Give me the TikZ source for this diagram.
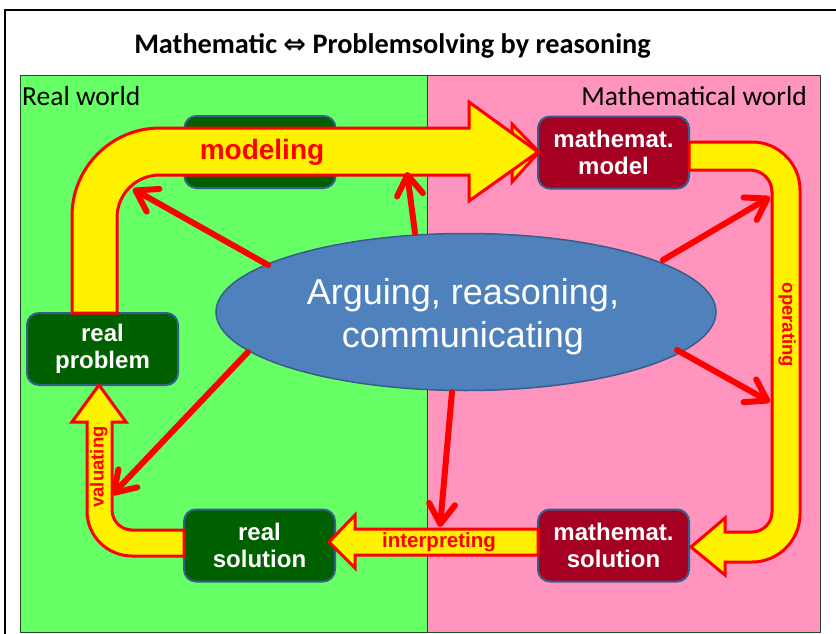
\documentclass[tikz,border=0pt]{standalone}
\usepackage{fontspec}
\setmainfont{Liberation Sans}
\newfontfamily\calibrifont{Carlito}
\newfontfamily\dejavufont{DejaVu Sans}
\usetikzlibrary{arrows.meta,shapes.geometric}
\definecolor{panelgreen}{RGB}{102,255,102}
\definecolor{panelpink}{RGB}{255,148,190}
\definecolor{boxgreen}{RGB}{0,96,0}
\definecolor{boxred}{RGB}{165,0,33}
\definecolor{boxborder}{RGB}{56,93,138}
\definecolor{ellfill}{RGB}{79,129,189}
\definecolor{panelline}{RGB}{40,70,40}
\begin{document}
\begin{tikzpicture}[x=1pt,y=-1pt,
  panel/.style={draw=panelline, line width=1pt},
  rbox/.style={draw=boxborder, line width=2pt, rounded corners=12pt, minimum width=151pt, minimum height=72pt, inner sep=0pt, align=center, text=white, font=\fontsize{24}{27}\selectfont\bfseries},
  yarrow/.style={fill=yellow, draw=red, line width=3pt, line join=miter},
  rarrow/.style={draw=red, line width=6pt, line cap=round, -{Straight Barb[length=20pt,width=26pt,round]}},
  lbl/.style={text=red, inner sep=0pt, font=\fontsize{19}{19}\selectfont\bfseries},
  worldlbl/.style={inner sep=0pt, font=\calibrifont\fontsize{27.5}{28}\selectfont},
]
\useasboundingbox (0,0) rectangle (836,634);
\clip (0,0) rectangle (836,634);
\fill[white] (0,0) rectangle (836,634);
\draw[line width=2pt] (5,10) rectangle (900,700);
% panels
\draw[panel, fill=panelgreen] (20,76) rectangle (427,632);
\draw[panel, fill=panelpink] (427,76) rectangle (820,632);
% texts
\node[inner sep=0pt, font=\calibrifont\fontsize{28.3}{30}\selectfont\bfseries] (title) at (392.5,46) {Mathematic {\dejavufont\fontsize{27}{28}\selectfont ⇔} Problemsolving by reasoning};
\node[worldlbl, anchor=west] (rw) at (22,96) {Real world};
\node[worldlbl, anchor=east] (mw) at (807,96) {Mathematical world};
% boxes
\node[rbox, fill=boxgreen] (hid) at (260,152) {};
\node[rbox, fill=boxred] (mm) at (613.5,152.5) {mathemat.\\model};
\node[rbox, fill=boxgreen] (rp) at (102.5,349) {real\\problem};
\node[rbox, fill=boxgreen] (rs) at (259.5,545.5) {real\\solution};
\node[rbox, fill=boxred] (ms) at (613.5,545.5) {mathemat.\\solution};
% modeling arrow
\draw[yarrow] (512,124) -- (539,152) -- (512,182) -- cycle;
\draw[yarrow] (72,313) -- (72,216) .. controls (72,167.4) and (111.4,128) .. (160,128)
  -- (469,128) -- (469,102) -- (538,152) -- (469,201) -- (469,175) -- (160,175)
  .. controls (136,175) and (117,194) .. (117,218) -- (117,313) -- cycle;
% operating arrow
\draw[yarrow] (689,142) -- (752,142) .. controls (778.5,142) and (800,163.5) .. (800,190)
  -- (800,514) .. controls (800,540.5) and (778.5,562) .. (752,562) -- (725,562) -- (725,575)
  -- (691,547) -- (725,518) -- (725,532) -- (752,532) .. controls (763,532) and (772,523) .. (772,512)
  -- (772,192) .. controls (772,179.8) and (762.2,170) .. (750,170) -- (689,170) -- cycle;
% interpreting arrow
\draw[yarrow] (538,529) -- (355,529) -- (355,515) -- (329,542) -- (355,568) -- (355,555) -- (538,555) -- cycle;
% valuating arrow
\draw[yarrow] (184,530) -- (132,530) .. controls (121,530) and (112,521) .. (112,510) -- (112,422)
  -- (126,422) -- (99,385) -- (72,422) -- (87,422) -- (87,511)
  .. controls (87,535.9) and (107.1,556) .. (132,556) -- (184,556) -- cycle;
% ellipse
\node[ellipse, draw=boxborder, line width=1.5pt, fill=ellfill, minimum width=500pt, minimum height=157pt, inner sep=0pt] (ell) at (466,312) {};
\node[align=center, text=white, inner sep=0pt, font=\fontsize{36}{43}\selectfont] (elltext) at (463,317) {Arguing, reasoning,\\communicating};
% red arrows
\coordinate (s1) at (268,265); \coordinate (t1) at (133,189);
\coordinate (s2) at (415,233); \coordinate (t2) at (407,172);
\coordinate (s3) at (663,260); \coordinate (t3) at (770,197);
\coordinate (s4) at (677,350); \coordinate (t4) at (770,402);
\coordinate (s5) at (452,392); \coordinate (t5) at (440,527);
\coordinate (s6) at (248,352); \coordinate (t6) at (112,495);
\draw[rarrow] (s1) -- (t1);
\draw[rarrow] (s2) -- (t2);
\draw[rarrow] (s3) -- (t3);
\draw[rarrow] (s4) -- (t4);
\draw[rarrow] (s5) -- (t5);
\draw[rarrow] (s6) -- (t6);
% arrow labels
\node[text=red, inner sep=0pt, font=\fontsize{28}{28}\selectfont\bfseries] (lmod) at (262,152) {modeling};
\node[lbl, font=\fontsize{20.5}{20.5}\selectfont\bfseries] (lint) at (439,542) {interpreting};
\node[lbl, rotate=-90, font=\fontsize{18.5}{18.5}\selectfont\bfseries] (lop) at (787,325) {operating};
\node[lbl, rotate=90, font=\fontsize{18.5}{18.5}\selectfont\bfseries] (lval) at (99,467) {valuating};
\end{tikzpicture}
\end{document}
